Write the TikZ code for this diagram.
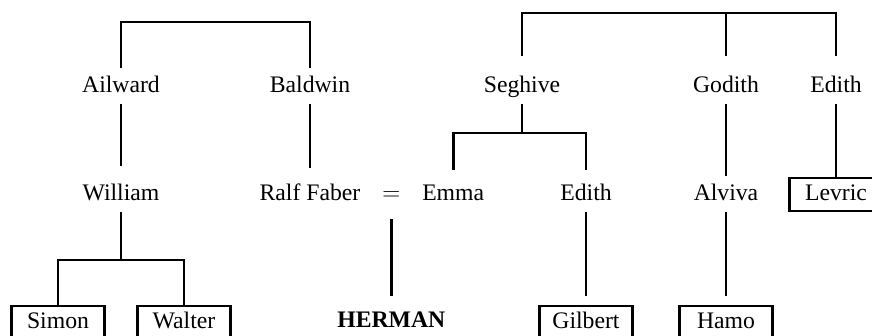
\documentclass[tikz,border=0pt]{standalone}
\usepackage{fontspec}
\setmainfont{Liberation Serif}
\usetikzlibrary{positioning}

\begin{document}
\begin{tikzpicture}[
    x=1pt, y=1pt,
    font=\fontsize{23.7}{28}\selectfont,
    person/.style={
      inner sep=0pt,
      outer xsep=0pt,
      outer ysep=7pt,
      text height=17pt,
      text depth=5pt
    },
    heir/.style={
      rectangle,
      draw=black,
      line width=2.9pt,
      inner sep=0pt,
      minimum width=93pt,
      minimum height=33pt,
      text height=17pt,
      text depth=5pt
    },
    kin/.style={
      line width=2.9pt,
      line join=miter
    }
]

\clip (0,0) rectangle (872,-335);

%% First generation
\node [person] (ailward) at (121,-86) {Ailward};
\node [person] (baldwin) at (310,-86) {Baldwin};
\node [person] (seghive) at (522,-86) {Seghive};
\node [person] (godith) at (726,-86) {Godith};
\node [person] (edithA) at (836,-86) {Edith};

%% Second generation
\node [person] (william) [below = 72pt of ailward] {William};
\node [person] (ralf) [below = 72pt of baldwin] {Ralf Faber};
\node [person] (eq) [right = 22pt of ralf] {$=$};
\node [person] (emma) [right = 22pt of eq] {Emma};
\node [person] (edithB) at (586,-194) {Edith};
\node [person] (alviva) at (726,-194) {Alviva};
\node [heir] (levric) at (836,-194.5) {Levric};

%% Third generation
\node [heir] (simon) at (58,-322.5) {Simon};
\node [heir] (walter) at (184,-322.5) {Walter};
\node [person] (herman) [below = 91pt of eq] {\textbf{HERMAN}};
\node [heir] (gilbert) at (586,-322.5) {Gilbert};
\node [heir] (hamo) at (726,-322.5) {Hamo};

%% Bars
\coordinate (topL) at (215,-22);
\coordinate (topR) at (680,-13);
\coordinate (segbar) at (522,-133);
\coordinate (wilbar) at (121,-260);

%%% Lines
\draw [kin] (ailward.north) |- (topL) -| (baldwin.north);
\draw [kin, shorten <=12pt, shorten >=12pt] (seghive.north) |- (topR) -| (edithA.north);
\draw [kin, shorten <=12pt] (godith.north) -- (godith.north |- topR);

\draw [kin, shorten >=10pt] (ailward) -- (william);
\draw [kin, shorten >=8pt] (baldwin) -- (ralf);
\draw [kin] (seghive) -- (segbar);
\draw [kin, shorten <=6pt, shorten >=6pt] (emma.north) |- (segbar) -| (edithB.north);
\draw [kin] (godith) -- (alviva);
\draw [kin] (edithA) -- (levric);

\draw [kin] (william) -- (wilbar);
\draw [kin] (simon.north) |- (wilbar) -| (walter.north);
\draw [kin, shorten <=7pt, shorten >=7pt] (eq) -- (herman);
\draw [kin, shorten >=9pt] (edithB) -- (gilbert);
\draw [kin, shorten >=9pt] (alviva) -- (hamo);

\end{tikzpicture}
\end{document}
